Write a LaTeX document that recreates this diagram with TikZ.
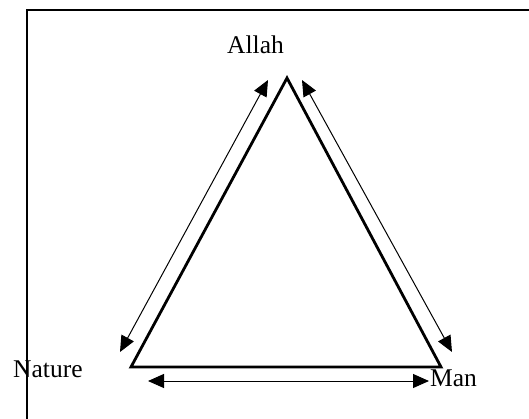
\documentclass[tikz,border=0pt]{standalone}
\usepackage{fontspec}
\setmainfont{Liberation Serif}
\usetikzlibrary{arrows.meta}
\begin{document}
\begin{tikzpicture}[x=1pt,y=-1pt,
  lbl/.style={inner sep=0pt,anchor=base west,font=\fontsize{25.5}{30}\selectfont},
  frameline/.style={line width=2.3pt},
  triline/.style={line width=2.8pt,line join=miter},
  rel/.style={line width=1pt,{Triangle[length=16pt,width=14pt]}-{Triangle[length=16pt,width=14pt]}}]
\useasboundingbox (0,0) rectangle (529,418);
% frame
\coordinate (fb) at (27,419);
\coordinate (ftl) at (27,10);
\coordinate (fr) at (530,10);
\draw[frameline] (fb) -- (ftl) -- (fr);
% triangle
\coordinate (top) at (287,78);
\coordinate (bl) at (131,367);
\coordinate (br) at (441,367);
\draw[triline] (top) -- (br) -- (bl) -- cycle;
% labels
\node[lbl] (allah) at (227,53) {Allah};
\node[lbl] (nature) at (13,377) {Nature};
\node[lbl] (man) at (430,386) {Man};
% arrows
\coordinate (l1) at (120,352);
\coordinate (l2) at (268,80);
\coordinate (r1) at (302,80);
\coordinate (r2) at (452,352);
\coordinate (b1) at (148,381);
\coordinate (b2) at (429,381);
\draw[rel] (l1) -- (l2);
\draw[rel] (r1) -- (r2);
\draw[rel] (b1) -- (b2);
\end{tikzpicture}
\end{document}
